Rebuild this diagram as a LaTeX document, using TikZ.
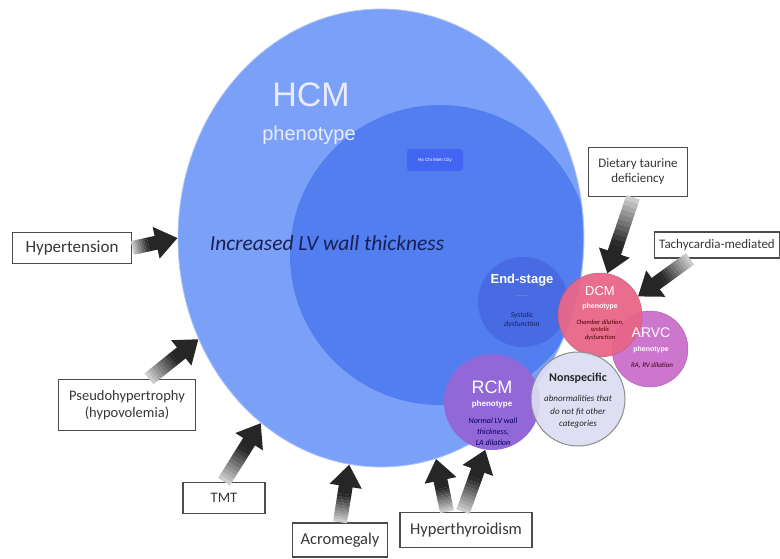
\documentclass[tikz,border=0pt]{standalone}
\usepackage{fontspec}
\setmainfont{Carlito}
\newfontfamily\arialf{Liberation Sans}
\usetikzlibrary{positioning,calc,arrows.meta,shapes.geometric}
\definecolor{outerblue}{RGB}{122,160,247}
\definecolor{innerblue}{RGB}{82,126,240}
\definecolor{endblue}{RGB}{72,106,226}
\definecolor{dcmpink}{RGB}{232,102,136}
\definecolor{arvcpink}{RGB}{204,118,206}
\definecolor{nonlav}{RGB}{220,220,243}
\definecolor{rcmpurple}{RGB}{146,104,216}
\definecolor{navytext}{RGB}{24,32,88}
\definecolor{boxtext}{RGB}{55,55,55}
\tikzset{
    cause/.style={draw=black!70, line width=1.6pt, fill=white, text=boxtext, align=center, inner sep=2pt}, % white boxes round the picture
    fat shaft/.style={line width=14pt},
    fat head/.style={line width=14pt, draw=black!85, -{Triangle[length=22pt,width=31pt]}},
    pheno/.style={circle, inner sep=0pt, align=center},
}

\begin{document}
\begin{tikzpicture}[x=1pt,y=-1pt]
  \useasboundingbox (0,0) rectangle (780,558);

  % big HCM phenotype area
  \node[ellipse, fill=outerblue, draw=outerblue!60!white, line width=0.8pt,
      minimum width=406pt, minimum height=458pt] (hcm) at (381,238) {};
  \begin{scope}
    \clip (hcm.center) ellipse (202 and 228);
    \node[circle, fill=innerblue, minimum size=300pt] (lvwall) at (440,255) {};
  \end{scope}

  \node[text=white!92!blue, font=\arialf\fontsize{34}{36}\selectfont] (hcm_t) at (311,95) {HCM};
  \node[text=white!92!blue, font=\arialf\fontsize{20}{22}\selectfont] (hcm_p) at (309,135) {phenotype};
  \node[rounded corners=3pt, fill=innerblue!80!blue, minimum width=56pt, minimum height=22pt,
      text=white, font=\arialf\fontsize{4.5}{5}\selectfont] (hcmc) at (435,160) {Ho Chi Minh City};
  \node[text=navytext, font=\fontsize{21.5}{24}\selectfont\itshape] (lv_t) at (327,243) {Increased LV wall thickness};

  % phenotype circles
  \node[pheno, fill=endblue, minimum size=90pt] (end) at (523,302) {};
  \node[pheno, fill=arvcpink, draw=arvcpink!80!black, minimum size=76pt] (arvc) at (650,349) {};
  \node[pheno, fill=dcmpink, fill opacity=0.95, draw=dcmpink!85!black, minimum size=84pt] (dcm) at (600,315) {};
  \node[pheno, fill=rcmpurple, minimum size=96pt] (rcm) at (492,402) {};
  \node[pheno, fill=nonlav, fill opacity=0.92, draw=black!45, line width=1pt, minimum size=94pt] (non) at (578,399) {};

  % texts in the circles
  \node[text=white, font=\arialf\bfseries\fontsize{13}{14}\selectfont] at (522,280) {End-stage};
  \node[text=white!70!endblue, font=\arialf\fontsize{3}{4}\selectfont] at (522,296) {------------};
  \node[text=navytext, font=\fontsize{7.5}{9}\selectfont\itshape, align=center] at (522,320) {Systolic\\dysfunction};

  \node[text=white, font=\arialf\fontsize{13}{14}\selectfont] at (600,291) {DCM};
  \node[text=white, font=\arialf\bfseries\fontsize{7}{8}\selectfont] at (600,307) {phenotype};
  \node[text=black!70!red, font=\fontsize{6.5}{7.5}\selectfont\itshape, align=center] at (600,330) {Chamber dilation,\\systolic\\dysfunction};

  \node[text=white, font=\arialf\fontsize{14}{15}\selectfont] at (651,333) {ARVC};
  \node[text=white, font=\arialf\bfseries\fontsize{7}{8}\selectfont] at (651,350) {phenotype};
  \node[text=black!70!purple, font=\fontsize{7}{8}\selectfont\itshape] at (652,366) {RA, RV dilation};

  \node[text=white, font=\arialf\fontsize{18}{19}\selectfont] at (492,387) {RCM};
  \node[text=white, font=\arialf\bfseries\fontsize{8}{9}\selectfont] at (492,404) {phenotype};
  \node[text=black!65!blue, font=\fontsize{8}{11}\selectfont\itshape, align=center] at (493,432) {Normal LV wall\\thickness,\\LA dilation};

  \node[text=black!85, font=\bfseries\fontsize{12}{13}\selectfont] at (578,378) {Nonspecific};
  \node[text=black!85, font=\fontsize{9}{12.5}\selectfont\itshape, align=center] at (578,412) {abnormalities that\\do not fit other\\categories};

  % causes
  \node[cause, minimum width=119pt, minimum height=31pt, font=\fontsize{17}{19}\selectfont] (ht) at (72,248) {Hypertension};
  \node[cause, minimum width=137pt, minimum height=51pt, font=\fontsize{14.5}{17}\selectfont] (pseudo) at (127,405) {Pseudohypertrophy\\(hypovolemia)};
  \node[cause, minimum width=82pt, minimum height=31pt, font=\fontsize{14.5}{16}\selectfont] (tmt) at (224,498) {TMT};
  \node[cause, minimum width=95pt, minimum height=34pt, font=\fontsize{16.5}{18}\selectfont] (acro) at (340,540) {Acromegaly};
  \node[cause, minimum width=132pt, minimum height=35pt, font=\fontsize{16.5}{18}\selectfont] (hyper) at (466,530) {Hyperthyroidism};
  \node[cause, minimum width=99pt, minimum height=49pt, font=\fontsize{13}{15}\selectfont] (diet) at (638,172) {Dietary taurine\\deficiency};
  \node[cause, minimum width=125pt, minimum height=26pt, font=\fontsize{13}{15}\selectfont] (tachy) at (717,245) {Tachycardia-mediated};

  % arrow ends
  \coordinate (pseudo_tail) at ([xshift=22pt]pseudo.north);
  \coordinate (hyper_tail_l) at ([xshift=-19pt]hyper.north);
  \coordinate (hyper_tail_r) at ([xshift=-3pt]hyper.north);
  \coordinate (diet_tail) at ([xshift=-5pt]diet.south);
  \coordinate (tachy_tail) at ([xshift=-27pt]tachy.south);

  % fat arrows, light at the tail and dark at the head
  \foreach \t/\h in {ht.east/hcm.west, pseudo_tail/hcm.209, tmt.north/hcm.237,
      acro.north/hcm.262, hyper_tail_l/hcm.284, hyper_tail_r/rcm.262,
      diet_tail/dcm.80, tachy_tail/dcm.26} {
    \coordinate (m) at ($(\h)!30pt!(\t)$);
    \foreach \i in {0,...,9} {
      \pgfmathtruncatemacro\c{20+7*\i}
      \draw[fat shaft, draw=black!\c] ($(\t)!\i/10!(m)$) -- ($(\t)!\i/10+0.105!(m)$);
    }
    \draw[fat head] (m) -- (\h);
  }
\end{tikzpicture}
\end{document}
